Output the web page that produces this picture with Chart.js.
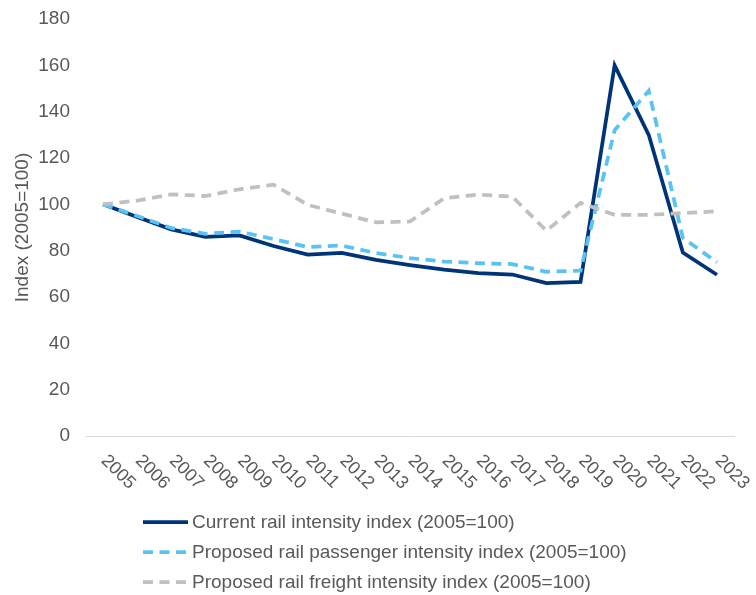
<!DOCTYPE html>
<html>
<head>
<meta charset="utf-8">
<script src="https://cdn.jsdelivr.net/npm/chart.js@4.4.1/dist/chart.umd.min.js"></script>
<style>
  html, body { margin: 0; padding: 0; background: #ffffff; }
  #wrap { width: 756px; height: 595px; }
</style>
</head>
<body>
<div id="wrap"><canvas id="chart" width="756" height="595"></canvas></div>
<script>
// Rail intensity indices, 2005 = 100
const years = ['2005','2006','2007','2008','2009','2010','2011','2012','2013','2014',
               '2015','2016','2017','2018','2019','2020','2021','2022','2023'];
const currentRail = [100, 94.5, 89.2, 86.0, 86.6, 82.0, 78.3, 79.0, 76.0, 73.8,
                     71.8, 70.3, 69.7, 66.0, 66.5, 160, 130, 79.2, 69.6];
const passengerRail = [100, 95.0, 89.8, 87.3, 88.2, 85.0, 81.6, 82.2, 79.0, 76.8,
                       75.3, 74.6, 74.2, 70.9, 71.4, 132, 149, 85.5, 75.0];
const freightRail = [100, 101.6, 104.3, 103.6, 106.5, 108.5, 99.8, 96.0, 92.2, 92.6,
                     102.6, 104.2, 103.3, 88.6, 100.6, 95.5, 95.5, 96.2, 97.0];
const yTicks = [0, 20, 40, 60, 80, 100, 120, 140, 160, 180];

const seriesNames = ['Current rail intensity index (2005=100)',
                     'Proposed rail passenger intensity index (2005=100)',
                     'Proposed rail freight intensity index (2005=100)'];
const yTitle = 'Index (2005=100)';

const FONT = '"Liberation Sans", Arial, sans-serif';
const TEXT = '#595959';

// x labels slanted downward to the right, starting at each category
const slantedXLabels = {
  id: 'slantedXLabels',
  afterDraw(chart) {
    const ctx = chart.ctx;
    const x = chart.scales.x;
    const top = chart.chartArea.bottom;
    ctx.save();
    ctx.font = '18px ' + FONT;
    ctx.fillStyle = TEXT;
    ctx.textAlign = 'left';
    ctx.textBaseline = 'middle';
    years.forEach((lab, i) => {
      const px = x.getPixelForValue(i);
      ctx.save();
      ctx.translate(px + 1, top + 22);
      ctx.rotate(Math.PI / 4);
      ctx.fillText(lab, 0, 0);
      ctx.restore();
    });
    ctx.restore();
  }
};

// stacked legend under the plot
const stackedLegend = {
  id: 'stackedLegend',
  afterDraw(chart) {
    const ctx = chart.ctx;
    const x0 = 143, len = 45, rowTop = 522, rowGap = 30;
    ctx.save();
    ctx.font = '19px ' + FONT;
    ctx.textAlign = 'left';
    ctx.textBaseline = 'middle';
    chart.data.datasets.forEach((ds, i) => {
      const y = rowTop + i * rowGap;
      ctx.save();
      ctx.strokeStyle = ds.borderColor;
      ctx.lineWidth = ds.borderWidth;
      ctx.setLineDash(ds.borderDash || []);
      ctx.beginPath();
      ctx.moveTo(x0, y);
      ctx.lineTo(x0 + len, y);
      ctx.stroke();
      ctx.restore();
      ctx.fillStyle = TEXT;
      ctx.fillText(ds.label, x0 + len + 4, y + 1);
    });
    ctx.restore();
  }
};

new Chart(document.getElementById('chart'), {
  type: 'line',
  data: {
    labels: years,
    datasets: [
      { label: seriesNames[0], data: currentRail, borderColor: '#003478',
        borderWidth: 3.75, pointRadius: 0, tension: 0, order: 3 },
      { label: seriesNames[1], data: passengerRail, borderColor: '#5BC3F2',
        borderWidth: 3.75, borderDash: [10, 6.5], pointRadius: 0, tension: 0, order: 2 },
      { label: seriesNames[2], data: freightRail, borderColor: '#C0C0C0',
        borderWidth: 3.75, borderDash: [10, 6.5], pointRadius: 0, tension: 0, order: 1 }
    ]
  },
  options: {
    responsive: false,
    animation: false,
    devicePixelRatio: 1,
    layout: { padding: { top: 19, right: 22, bottom: 159, left: 0 } },
    plugins: {
      legend: { display: false },
      tooltip: { enabled: false }
    },
    scales: {
      x: {
        offset: true,
        grid: { display: false, drawTicks: false },
        border: { display: true, color: '#D9D9D9', width: 1 },
        ticks: { display: false },
        afterFit(s) { s.height = 0; s.paddingLeft = 0; s.paddingRight = 0; }
      },
      y: {
        min: 0, max: 180,
        afterBuildTicks(s) { s.ticks = yTicks.map(v => ({ value: v })); },
        grid: { display: false, drawTicks: false },
        border: { display: false },
        ticks: {
          padding: 16,
          color: TEXT,
          font: { family: FONT, size: 19 }
        },
        title: {
          display: true,
          text: yTitle,
          color: TEXT,
          font: { family: FONT, size: 19 },
          padding: { top: 11, bottom: 0 }
        },
        afterFit(s) { s.width = 86; s.paddingTop = 0; s.paddingBottom = 0; }
      }
    }
  },
  plugins: [slantedXLabels, stackedLegend]
});
</script>
</body>
</html>
